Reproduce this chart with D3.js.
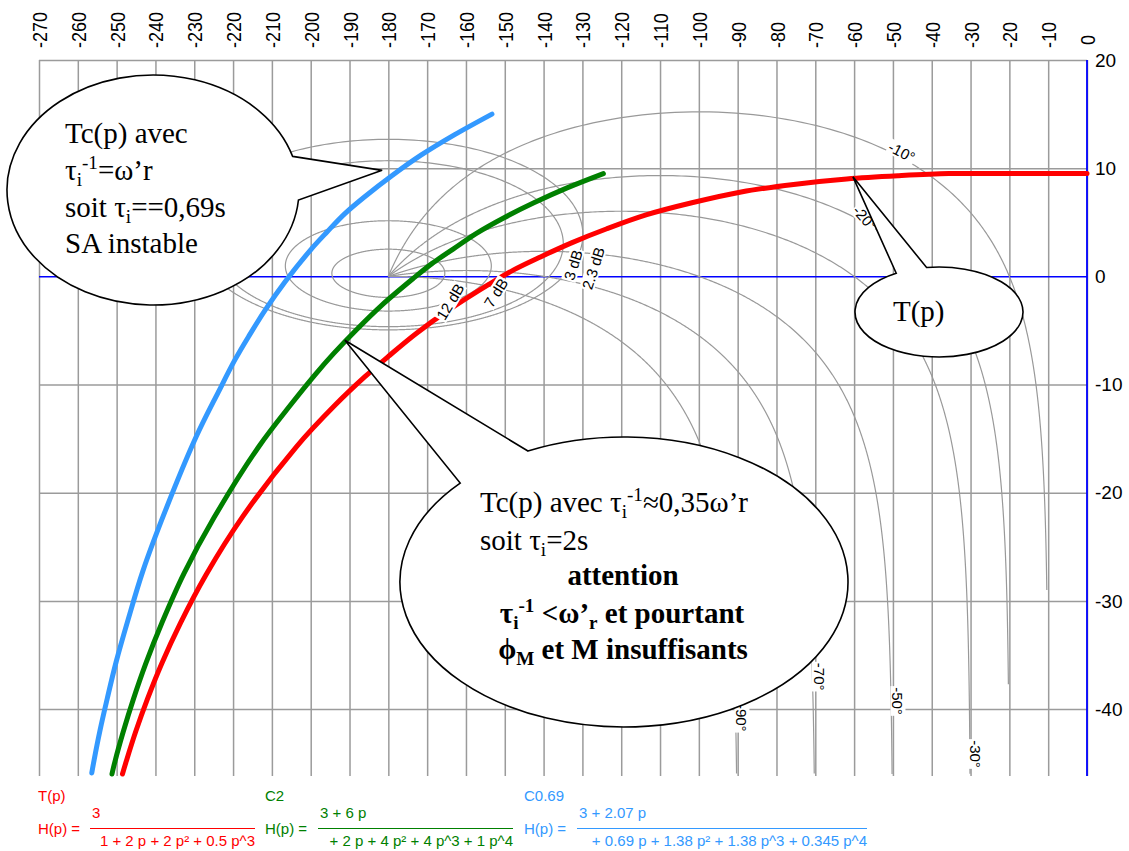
<!DOCTYPE html>
<html><head><meta charset="utf-8">
<script src="https://cdn.jsdelivr.net/npm/d3@7"></script>
<style>
body{margin:0;background:#fff;}
svg{display:block;}
</style></head><body>
<svg id="chart" width="1129" height="851"></svg>
<script>
// ---------------- data ----------------
const phaseTicks = d3.range(-270, 1, 10);
const gainTicks = [20, 10, 0, -10, -20, -30, -40];

// Nichols grid: closed-loop gain contours (dB) and closed-loop phase contours (deg)
const mContoursDb = [12, 7, 3, 2.3];
const mLabelText = ["12 dB", "7 dB", "3 dB", "2.3 dB"];
const mLabelPhase = [-164.1, -152.3, -132.4, -127.2];
const mLabelGain = [-2.34, -1.51, 1.05, 0.75];
const mLabelAngle = [-59, -58, -73, -72];

const nContoursDeg = [-10, -20, -30, -50, -70, -90];
const nContourEndDb = [-29, -37.7, -46, -46, -46, -46];
const nLabelText = ["-10°", "-20°", "-30°", "-50°", "-70°", "-90°"];
const nLabelPhase = [-47.7, -57.2, -28.6, -48.7, -69.0, -88.9];
const nLabelGain = [11.5, 5.4, -44.15, -39.25, -37.0, -40.8];
const nLabelAngle = [27, 48, 90, 90, 90, 90];

// open-loop curves (phase deg, gain dB)
const tPhase = [0, -5.7, -11.5, -23.3, -35.6, -48.5, -61.9, -75.6, -89.1, -101.8, -113.4, -123.7, -132.8, -140.8, -147.7, -153.9, -164.4, -172.9, -180.0, -186.1, -193.7, -203.8, -217.7, -227.0, -233.5, -238.4, -242.1, -245.1, -247.5, -248.5];
const tGain  = [9.5, 9.5, 9.5, 9.5, 9.5, 9.3, 9.0, 8.5, 7.8, 6.8, 5.7, 4.4, 3.1, 1.8, 0.6, -0.7, -3.1, -5.3, -7.4, -9.3, -11.9, -15.8, -22.3, -27.6, -32.0, -35.8, -39.1, -42.1, -44.8, -46.0];

const c2Phase = [-124.6, -133.8, -142.5, -150.3, -157.2, -163.4, -168.7, -173.6, -181.8, -188.4, -194.0, -198.9, -205.0, -213.3, -224.9, -232.7, -238.3, -242.5, -245.7, -248.3, -250.4, -251.2];
const c2Gain  = [9.5, 8.2, 6.8, 5.4, 4.0, 2.5, 1.2, -0.2, -2.7, -5.0, -7.1, -9.1, -11.8, -15.7, -22.3, -27.5, -32.0, -35.8, -39.1, -42.1, -44.8, -46.0];

const c069Phase = [-153.3, -162.9, -171.6, -179.1, -185.6, -191.2, -195.8, -199.9, -206.6, -211.7, -215.9, -219.5, -223.8, -229.6, -237.6, -243.2, -247.1, -250.1, -252.4, -254.3, -255.8, -256.4];
const c069Gain  = [15.0, 13.1, 11.2, 9.3, 7.5, 5.8, 4.1, 2.5, -0.5, -3.1, -5.5, -7.7, -10.7, -14.9, -21.8, -27.2, -31.8, -35.6, -39.0, -42.0, -44.7, -45.9];

const seriesNames = ["T(p)", "C2", "C0.69"];
const seriesColors = ["#ff0000", "#008000", "#3399ff"];
const seriesNum = ["3", "3 + 6 p", "3 + 2.07 p"];
const seriesDen = ["1 + 2 p + 2 p² + 0.5 p^3", "+ 2 p + 4 p² + 4 p^3 + 1 p^4", "+ 0.69 p + 1.38 p² + 1.38 p^3 + 0.345 p^4"];

// callouts: tip in data coordinates
const tipPhase = [-181.6, -60.3, -191.2];
const tipGain = [9.8, 9.2, -5.9];

// ---------------- drawing ----------------
const SANS = '"Liberation Sans", Arial, sans-serif';
const SERIF = '"Liberation Serif", "Times New Roman", serif';
const svg = d3.select('#chart');
const x = d3.scaleLinear().domain([-270, 0]).range([39, 1087]);
const y = d3.scaleLinear().domain([-46, 20]).range([774, 60]);
const GRID = '#9b9b9b';

svg.append('defs').append('clipPath').attr('id', 'plotclip')
  .append('rect').attr('x', x(-270)).attr('y', y(20)).attr('width', x(0) - x(-270)).attr('height', y(-46) - y(20));

// vertical grid + top labels
const gX = svg.append('g').attr('transform', `translate(0,${y(20)})`)
  .call(d3.axisTop(x).tickValues(phaseTicks).tickSizeInner(-(y(-46) + 2 - y(20))).tickSizeOuter(0).tickFormat(d => String(d)));
gX.select('.domain').remove();
gX.selectAll('.tick line').attr('stroke', GRID).attr('stroke-width', 1.5);
gX.selectAll('.tick text').attr('y', null).attr('dy', null).attr('fill', '#000')
  .attr('text-anchor', 'start').attr('dominant-baseline', 'central')
  .attr('transform', d => `translate(0,${d === 0 ? -15 : -12}) scale(1.17,1) rotate(-90)`)
  .style('font', `18px ${SANS}`);

// horizontal grid + right labels
const gY = svg.append('g').attr('transform', `translate(${x(0)},0)`)
  .call(d3.axisRight(y).tickValues(gainTicks).tickSizeInner(-(x(0) - x(-270))).tickSizeOuter(0).tickPadding(8).tickFormat(d => String(d)));
gY.select('.domain').remove();
gY.selectAll('.tick line').attr('stroke', d => d === 0 ? '#0000ff' : GRID).attr('stroke-width', 1.5);
gY.selectAll('.tick text').attr('fill', '#000').style('font', `19px ${SANS}`);
svg.append('line').attr('x1', x(0)).attr('x2', x(0)).attr('y1', y(20)).attr('y2', y(-46) + 2)
  .attr('stroke', '#0000ff').attr('stroke-width', 1.8);

// Nichols contours
function toLoop(tr, ti) {
  const dr = 1 - tr, di = -ti, den = dr * dr + di * di;
  const lr = (tr * dr + ti * di) / den, li = (ti * dr - tr * di) / den;
  let ph = Math.atan2(li, lr) * 180 / Math.PI; if (ph > 0) ph -= 360;
  return [ph, 20 * Math.log10(Math.hypot(lr, li))];
}
function mContour(db) {
  const M = Math.pow(10, db / 20), pts = [];
  for (let i = 0; i <= 900; i++) {
    const th = -i / 900 * 2 * Math.PI;
    pts.push(toLoop(M * Math.cos(th), M * Math.sin(th)));
  }
  return pts;
}
function nContour(psiDeg, minDb) {
  const psi = psiDeg * Math.PI / 180, pts = [];
  for (let i = 0; i <= 2000; i++) {
    const M = Math.pow(10, 3 - i * 6 / 2000);
    const p = toLoop(M * Math.cos(psi), M * Math.sin(psi));
    if (p[1] < minDb) break;
    pts.push(p);
  }
  return pts;
}
const lineGen = d3.line().x(d => x(d[0])).y(d => y(d[1]));
const gC = svg.append('g').attr('clip-path', 'url(#plotclip)');
mContoursDb.forEach(db => gC.append('path').attr('d', lineGen(mContour(db))).attr('fill', 'none').attr('stroke', '#999').attr('stroke-width', 1.2));
nContoursDeg.forEach((d, i) => gC.append('path').attr('d', lineGen(nContour(d, nContourEndDb[i]))).attr('fill', 'none').attr('stroke', '#999').attr('stroke-width', 1.2));

// curves
const curveGen = d3.line().curve(d3.curveCatmullRom.alpha(0.5)).x(d => x(d[0])).y(d => y(d[1]));
const series = [[tPhase, tGain], [c2Phase, c2Gain], [c069Phase, c069Gain]];
series.forEach((s, i) => {
  const pts = s[0].map((p, k) => [p, s[1][k]]);
  svg.append('path').attr('d', curveGen(pts)).attr('fill', 'none')
    .attr('stroke', seriesColors[i]).attr('stroke-width', 5).attr('stroke-linecap', 'round');
});

// contour labels with white background
function bgLabel(txt, px, py, angle) {
  const g = svg.append('g').attr('transform', `translate(${px},${py}) rotate(${angle})`);
  const r = g.append('rect').attr('fill', '#fff');
  const t = g.append('text').attr('text-anchor', 'middle').attr('dominant-baseline', 'central')
    .style('font', `15px ${SANS}`).attr('fill', '#000').text(txt);
  const bb = t.node().getBBox();
  r.attr('x', bb.x - 1).attr('y', bb.y + 1).attr('width', bb.width + 2).attr('height', bb.height - 2);
}
mLabelText.forEach((t, i) => bgLabel(t, x(mLabelPhase[i]), y(mLabelGain[i]), mLabelAngle[i]));
nLabelText.forEach((t, i) => bgLabel(t, x(nLabelPhase[i]), y(nLabelGain[i]), nLabelAngle[i]));

// callouts
function bubble(cx, cy, rx, ry, a1, a2, tip) {
  const r = Math.PI / 180;
  const p1 = [cx + rx * Math.cos(a1 * r), cy + ry * Math.sin(a1 * r)];
  const p2 = [cx + rx * Math.cos(a2 * r), cy + ry * Math.sin(a2 * r)];
  const d = (((a1 - a2) % 360) + 360) % 360;
  const sweep = d > 180 ? 1 : 0;
  svg.append('path')
    .attr('d', `M${p1[0]},${p1[1]} L${tip[0]},${tip[1]} L${p2[0]},${p2[1]} A${rx},${ry} 0 1 ${sweep} ${p1[0]},${p1[1]} Z`)
    .attr('fill', '#fff').attr('stroke', '#000').attr('stroke-width', 1.6).attr('stroke-linejoin', 'miter');
}
function richText(px, py, segs, size, anchor, bold) {
  const t = svg.append('text').attr('x', px).attr('y', py).attr('text-anchor', anchor || 'start')
    .style('font', `${bold ? 'bold ' : ''}${size}px ${SERIF}`).attr('fill', '#000');
  let cur = 0;
  segs.forEach(s => {
    const seg = typeof s === 'string' ? { t: s } : s;
    const off = seg.s === 'sub' ? 0.2 * size : seg.s === 'sup' ? -0.38 * size : 0;
    const ts = t.append('tspan').text(seg.t).attr('dy', off - cur);
    if (seg.s) ts.style('font-size', (0.66 * size) + 'px');
    cur = off;
  });
}
bubble(153, 190, 146, 115, -17, 5, [x(tipPhase[0]), y(tipGain[0])]);
bubble(939, 312, 84, 45, -120.6, -98.5, [x(tipPhase[1]), y(tipGain[1])]);
bubble(624, 582, 224, 145, -115.4, -137, [x(tipPhase[2]), y(tipGain[2])]);

const FS = 29;
richText(65, 143, ["Tc(p) avec"], FS);
richText(65, 180, ["τ", { t: "i", s: "sub" }, { t: "-1", s: "sup" }, "=ω’r"], FS);
richText(65, 217, ["soit τ", { t: "i", s: "sub" }, "==0,69s"], FS);
richText(65, 253, ["SA instable"], FS);

richText(893, 321, ["T(p)"], FS);

richText(480, 512, ["Tc(p) avec τ", { t: "i", s: "sub" }, { t: "-1", s: "sup" }, "≈0,35ω’r"], FS);
richText(480, 550, ["soit τ", { t: "i", s: "sub" }, "=2s"], FS);
richText(623, 585, ["attention"], FS, 'middle', true);
richText(622, 623, ["τ", { t: "i", s: "sub" }, { t: "-1", s: "sup" }, " <ω’", { t: "r", s: "sub" }, " et pourtant"], FS, 'middle', true);
richText(623, 659, ["ϕ", { t: "M", s: "sub" }, " et M insuffisants"], FS, 'middle', true);

// legend
const legX = [38, 265, 524];
const fracX = [90, 318, 577];
const fracW = [165, 195, 290];
seriesNames.forEach((n, i) => {
  const c = seriesColors[i];
  const g = svg.append('g').style('font', `15px ${SANS}`).attr('fill', c);
  g.append('text').attr('x', legX[i]).attr('y', 801).text(n);
  g.append('text').attr('x', legX[i]).attr('y', 834).text('H(p) =');
  g.append('text').attr('x', fracX[i] + 2).attr('y', 818).text(seriesNum[i]);
  g.append('line').attr('x1', fracX[i]).attr('x2', fracX[i] + fracW[i]).attr('y1', 828.5).attr('y2', 828.5).attr('stroke', c).attr('stroke-width', 1);
  g.append('text').attr('x', fracX[i] + fracW[i]).attr('y', 846).attr('text-anchor', 'end').text(seriesDen[i]);
});
</script>
</body></html>
